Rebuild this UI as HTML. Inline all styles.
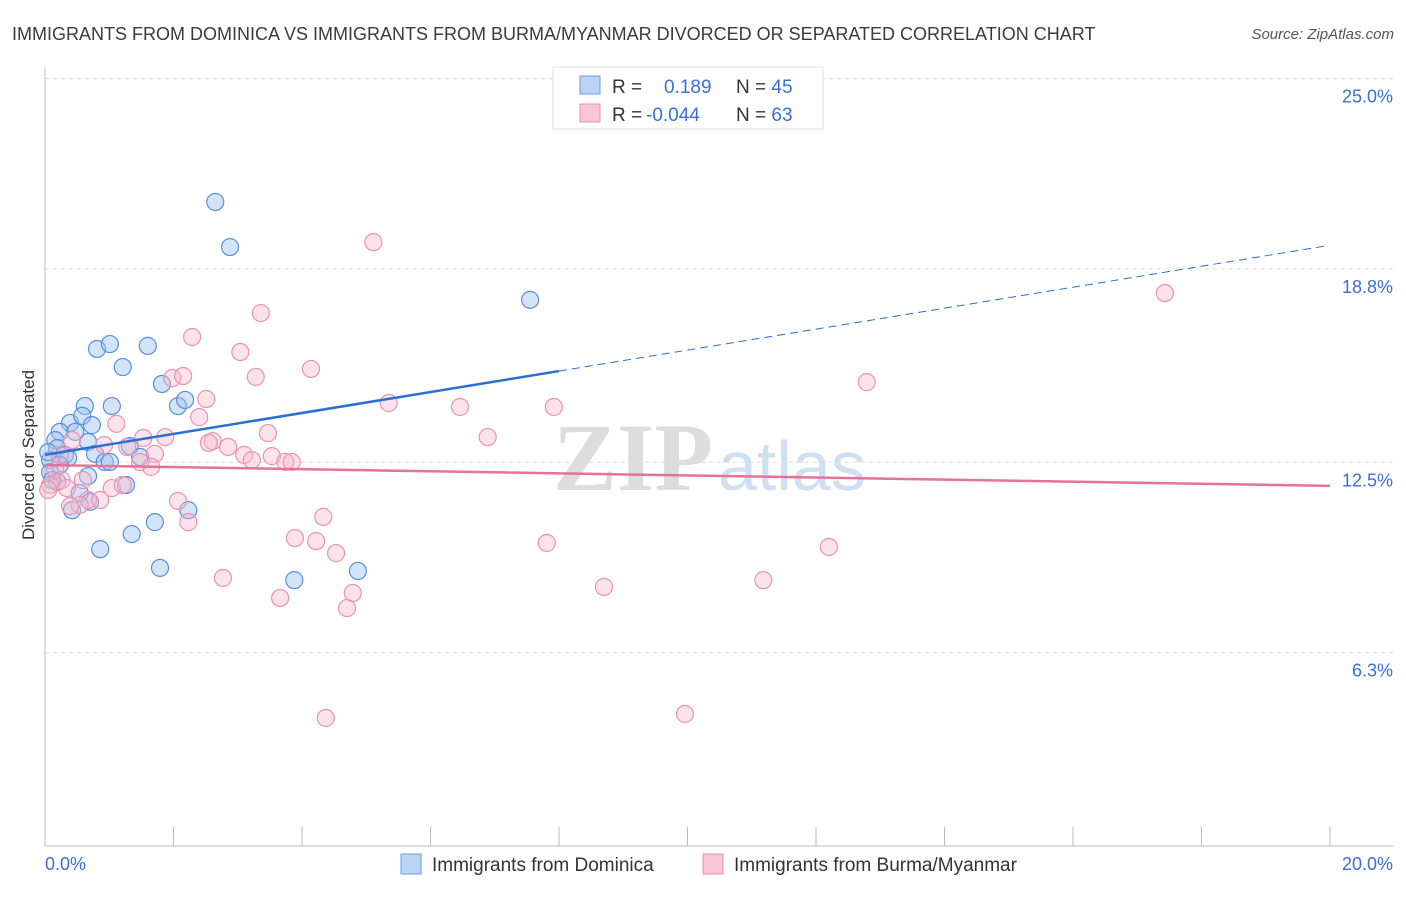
<!DOCTYPE html>
<html><head><meta charset="utf-8"><style>
body{margin:0;background:#fff;font-family:"Liberation Sans",sans-serif}
</style></head><body>
<svg id="c" width="1406" height="892" xmlns="http://www.w3.org/2000/svg" style="font-family:'Liberation Sans',sans-serif">
<text x="12" y="40" font-size="18" fill="#3b3b3b">IMMIGRANTS FROM DOMINICA VS IMMIGRANTS FROM BURMA/MYANMAR DIVORCED OR SEPARATED CORRELATION CHART</text>
<text x="1394" y="39" font-size="15" fill="#555" font-style="italic" text-anchor="end">Source: ZipAtlas.com</text>
<g><text x="553" y="490" font-size="96" fill="#ddd" font-family="Liberation Serif" font-weight="bold">ZIP</text><text x="718" y="490" font-size="70" fill="#cfe0f3">atlas</text></g>
<g id="grid"></g><g id="axes"></g><g id="pts"></g><g id="trend"></g>
<text transform="translate(34,455) rotate(-90)" font-size="17" fill="#333" text-anchor="middle">Divorced or Separated</text>
<text x="45" y="870" font-size="18" fill="#3a6fd8">0.0%</text>
<text x="1393" y="870" font-size="18" fill="#3a6fd8" text-anchor="end">20.0%</text>
<g>
<rect x="553" y="67" width="270" height="62" fill="#fff" stroke="#ddd"/>
<rect x="580" y="76" width="20" height="18" fill="#b8d3f5" stroke="#6b9be0"/>
<rect x="580" y="104" width="20" height="18" fill="#f9c6d6" stroke="#ea8fae"/>
<text x="612" y="93" font-size="19" fill="#333">R = <tspan fill="#3a6fd8" x="664">0.189</tspan><tspan x="736">N = </tspan><tspan fill="#3a6fd8">45</tspan></text>
<text x="612" y="121" font-size="19" fill="#333">R = <tspan fill="#3a6fd8" x="646">-0.044</tspan><tspan x="736">N = </tspan><tspan fill="#3a6fd8">63</tspan></text>
</g>
<g>
<rect x="401" y="854" width="20" height="20" fill="#b8d3f5" stroke="#6b9be0"/>
<text x="432" y="871" font-size="19" fill="#333">Immigrants from Dominica</text>
<rect x="703" y="854" width="20" height="20" fill="#f9c6d6" stroke="#ea8fae"/>
<text x="734" y="871" font-size="19" fill="#333">Immigrants from Burma/Myanmar</text>
</g>
</svg>
<script>
const yTicks=[25.0,18.8,12.5,6.3];
const yTickLabels=["25.0%","18.8%","12.5%","6.3%"];
const xTicks=[0,2,4,6,8,10,12,14,16,18,20];
const blueX=[2.65,2.88,7.55,0.81,1.01,1.60,1.21,1.82,0.62,1.04,2.07,2.18,0.39,0.58,0.23,0.73,0.47,0.16,0.67,1.32,0.19,0.31,0.78,0.36,0.08,0.93,1.01,1.48,0.23,0.08,0.67,1.26,0.19,0.54,0.70,2.23,0.42,1.71,1.35,0.86,1.79,3.88,4.87,0.11,0.05];
const blueY=[20.98,19.51,17.79,16.19,16.35,16.29,15.60,15.05,14.33,14.33,14.33,14.53,13.78,14.01,13.49,13.71,13.49,13.22,13.16,13.03,12.96,12.74,12.77,12.64,12.57,12.51,12.51,12.67,12.41,12.18,12.05,11.76,11.86,11.50,11.21,10.94,10.94,10.55,10.16,9.67,9.06,8.66,8.96,11.92,12.83];
const pinkX=[5.11,17.43,3.36,2.29,3.04,4.14,12.79,3.28,1.98,2.15,2.51,5.35,6.46,7.92,2.40,1.11,3.47,6.89,1.87,1.53,2.61,2.55,0.92,2.85,1.28,1.71,3.10,3.22,3.53,3.74,3.84,1.48,1.65,0.42,0.23,0.16,0.26,0.08,0.05,0.34,0.59,1.04,1.21,0.67,0.86,0.54,0.39,2.07,2.23,4.33,3.89,4.22,4.53,7.81,12.20,2.77,11.18,8.70,3.66,4.79,4.70,4.37,9.96];
const pinkY=[19.67,18.01,17.36,16.58,16.09,15.54,15.11,15.28,15.24,15.31,14.56,14.43,14.30,14.30,13.97,13.75,13.45,13.32,13.32,13.29,13.19,13.13,13.06,13.00,13.00,12.77,12.74,12.57,12.70,12.51,12.51,12.51,12.35,13.22,12.74,12.25,11.92,11.76,11.60,11.66,11.92,11.66,11.76,11.27,11.27,11.11,11.07,11.24,10.55,10.72,10.03,9.93,9.54,9.87,9.74,8.73,8.66,8.44,8.08,8.24,7.75,4.17,4.30];
const blueTrend=[[0,12.74],[8,15.47],[19.92,19.54]];
const pinkTrend=[[0,12.41],[20,11.73]];
const ns="http://www.w3.org/2000/svg";
const X=v=>45+v*64.25, Y=v=>846-v*30.7;
function mk(t,a,p){const e=document.createElementNS(ns,t);for(const k in a)e.setAttribute(k,a[k]);document.getElementById(p).appendChild(e);return e;}
yTicks.forEach((t,i)=>{
 const g=mk('line',{x1:45,x2:1393,y1:Y(t),y2:Y(t),stroke:'#ddd','stroke-dasharray':'4,4'},'grid');
 
 
 const l=mk('text',{x:1393,y:Y(t)+24,'font-size':18,fill:'#3a6fd8','text-anchor':'end'},'axes');
 l.textContent=yTickLabels[i];
 
 
});
const ax=mk('line',{x1:45,x2:1393,y1:846,y2:846,stroke:'#bbb'},'axes');


const ay=mk('line',{x1:45,x2:45,y1:68,y2:846,stroke:'#bbb'},'axes');


xTicks.forEach(t=>{
 const e=mk('line',{x1:X(t),x2:X(t),y1:827,y2:846,stroke:'#bbb'},'axes');
 
 
});
blueX.forEach((v,i)=>{
 const c=mk('circle',{cx:X(v),cy:Y(blueY[i]),r:8.5,fill:'rgba(160,196,240,0.45)',stroke:'#5a8fdc','stroke-width':1.2},'pts');
 
 
});
pinkX.forEach((v,i)=>{
 const c=mk('circle',{cx:X(v),cy:Y(pinkY[i]),r:8.5,fill:'rgba(248,184,204,0.4)',stroke:'#eb92b0','stroke-width':1.2},'pts');
 
 
});
const b1=mk('line',{x1:X(blueTrend[0][0]),y1:Y(blueTrend[0][1]),x2:X(blueTrend[1][0]),y2:Y(blueTrend[1][1]),stroke:'#2a6fd6','stroke-width':2.5},'trend');


const b2=mk('line',{x1:X(blueTrend[1][0]),y1:Y(blueTrend[1][1]),x2:X(blueTrend[2][0]),y2:Y(blueTrend[2][1]),stroke:'#2a6fd6','stroke-width':1,'stroke-dasharray':'8,5'},'trend');


const p1=mk('line',{x1:X(pinkTrend[0][0]),y1:Y(pinkTrend[0][1]),x2:X(pinkTrend[1][0]),y2:Y(pinkTrend[1][1]),stroke:'#e6729a','stroke-width':2.5},'trend');


</script>
</body></html>
